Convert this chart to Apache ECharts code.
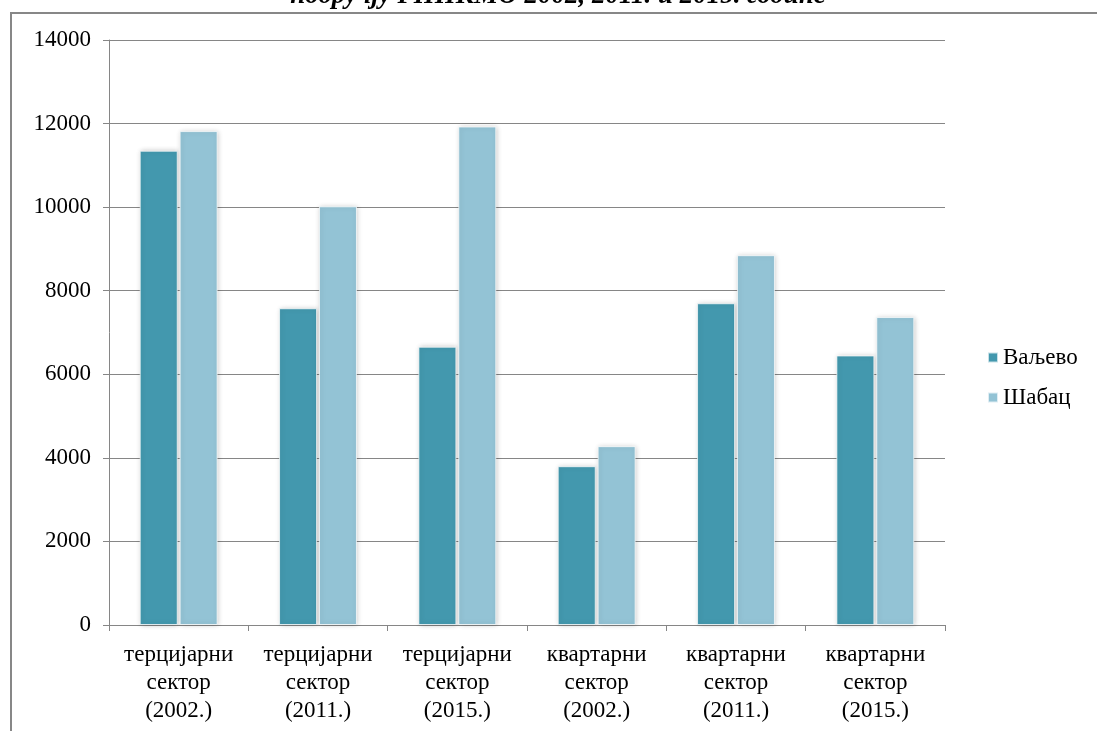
<!DOCTYPE html>
<html>
<head>
<meta charset="utf-8">
<script src="https://cdn.jsdelivr.net/npm/echarts@6/dist/echarts.min.js"></script>
<style>
  html, body { margin: 0; padding: 0; background: #fff; }
  #chart { width: 1097px; height: 731px; }
</style>
</head>
<body>
<div id="chart"></div>
<script>
var categories = [
    'терцијарни\nсектор\n(2002.)',
    'терцијарни\nсектор\n(2011.)',
    'терцијарни\nсектор\n(2015.)',
    'квартарни\nсектор\n(2002.)',
    'квартарни\nсектор\n(2011.)',
    'квартарни\nсектор\n(2015.)'
];
var valjevo = [11350, 7580, 6660, 3800, 7700, 6450];
var sabac = [11820, 10020, 11930, 4280, 8850, 7370];
var titleText = 'подручју РПИКМО 2002, 2011. и 2015. године';

var chart = echarts.init(document.getElementById('chart'));

var serif = '"Liberation Serif", "DejaVu Serif", serif';

// bars get a soft grey glow like the spreadsheet original
var barStyle = function (color) {
    return {
        color: color,
        borderColor: 'rgba(255,255,255,0.7)',
        borderWidth: 1,
        shadowColor: 'rgba(0,0,0,0.22)',
        shadowBlur: 5,
        shadowOffsetX: 1
    };
};

option = {
    backgroundColor: '#fff',
    animation: false,
    textStyle: { fontFamily: serif },
    graphic: [
        {
            type: 'text',
            x: 558,
            y: 10,
            style: {
                text: titleText,
                font: 'italic bold 27px ' + serif,
                fill: '#000',
                align: 'center',
                verticalAlign: 'bottom'
            }
        },
        {
            type: 'rect',
            shape: { x: 11, y: 13, width: 1200, height: 800 },
            style: { fill: 'none', stroke: '#878787', lineWidth: 2 }
        }
    ],
    legend: {
        orient: 'vertical',
        left: 982,
        top: 341,
        itemWidth: 10,
        itemHeight: 10,
        itemGap: 17,
        icon: 'rect',
        textStyle: { fontSize: 23, color: '#000', fontFamily: serif }
    },
    grid: {
        left: 109,
        right: 152,
        top: 40,
        bottom: 106
    },
    xAxis: {
        type: 'category',
        data: categories,
        axisLine: { lineStyle: { color: '#868686', width: 1 } },
        axisTick: { show: true, length: 6, lineStyle: { color: '#868686' } },
        axisLabel: {
            color: '#000',
            fontSize: 23,
            fontFamily: serif,
            lineHeight: 28,
            margin: 16,
            interval: 0
        }
    },
    yAxis: {
        type: 'value',
        min: 0,
        max: 14000,
        interval: 2000,
        axisLine: { show: true, lineStyle: { color: '#868686' } },
        axisTick: { show: true, length: 6, lineStyle: { color: '#868686' } },
        axisLabel: {
            color: '#000',
            fontSize: 23,
            fontFamily: serif,
            margin: 18,
            formatter: function (v) { return String(v); }
        },
        splitLine: { lineStyle: { color: '#868686', width: 1 } }
    },
    series: [
        {
            name: 'Ваљево',
            type: 'bar',
            data: valjevo,
            barWidth: 38,
            barGap: '5%',
            itemStyle: barStyle('#4398ae')
        },
        {
            name: 'Шабац',
            type: 'bar',
            data: sabac,
            barWidth: 38,
            itemStyle: barStyle('#93c3d5')
        }
    ]
};

chart.setOption(option);
</script>
</body>
</html>
